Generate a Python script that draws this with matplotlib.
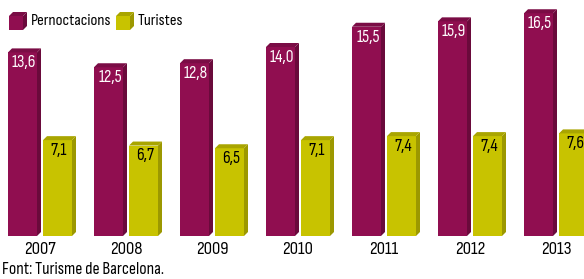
import matplotlib
matplotlib.use("Agg")
import matplotlib.pyplot as plt
from matplotlib.patches import Polygon
import matplotlib.transforms as mtransforms
import numpy as np

years = ["2007", "2008", "2009", "2010", "2011", "2012", "2013"]
pernoctacions = [13.6, 12.5, 12.8, 14.0, 15.5, 15.9, 16.5]
turistes = [7.1, 6.7, 6.5, 7.1, 7.4, 7.4, 7.6]
series_names = ["Pernoctacions", "Turistes"]
source = "Font: Turisme de Barcelona."

FONT = ["Sofia Sans Condensed", "Sofia Sans Semi Condensed", "DejaVu Sans"]
plt.rcParams["font.family"] = FONT

W, H = 584, 279
fig = plt.figure(figsize=(W / 100, H / 100), dpi=100)
ax = fig.add_axes([0, 43 / H, 1, 236 / H])
ax.set_xlim(-40 / 86, -40 / 86 + W / 86)
ax.set_ylim(0, 236 / 13.5)
ax.axis("off")

colors = [
    dict(front="#900E50", side="#6A0A3B", top="#7A0C45", text="white"),
    dict(front="#C8C300", side="#9C9800", top="#A9A500", text="black"),
]
bw = 29 / 86
off = 17.5 / 86
depth = 4  # px
x = np.arange(len(years))

dtrans = mtransforms.ScaledTranslation(depth / 100, depth / 100, fig.dpi_scale_trans)

for k, vals in enumerate([pernoctacions, turistes]):
    c = colors[k]
    xs = x + (-off if k == 0 else off)
    bars = ax.bar(xs, vals, width=bw, color=c["front"], zorder=3)
    for b, v in zip(bars, vals):
        x0, x1 = b.get_x(), b.get_x() + b.get_width()
        disp = ax.transData
        pts_side = [(x1, 0), (x1, v)]
        pts_top = [(x0, v), (x1, v)]
        p0 = disp.transform(pts_side)
        p1 = (disp + dtrans).transform(pts_side)
        side = Polygon([p0[0], p0[1], p1[1], p1[0]], closed=True,
                       transform=None, facecolor=c["side"], edgecolor="none", zorder=2)
        t0 = disp.transform(pts_top)
        t1 = (disp + dtrans).transform(pts_top)
        top = Polygon([t0[0], t0[1], t1[1], t1[0]], closed=True,
                      transform=None, facecolor=c["top"], edgecolor="none", zorder=2)
        fig.patches.append(side)
        fig.patches.append(top)
        ax.annotate(f"{v:.1f}".replace(".", ","), (b.get_x() + b.get_width() / 2, v),
                    xytext=(1, -2), textcoords="offset points", ha="center", va="top",
                    color=c["text"], fontsize=12.5, zorder=5)

for i, y in enumerate(years):
    ax.annotate(y, (i, 0), xytext=(0, -4.5), textcoords="offset points",
                ha="center", va="top", fontsize=13.5, color="black")

fig.text(2 / W, 1 - 270 / H, source, ha="left", va="center", fontsize=12.6, color="black")

def cube(xp, yp, s, c):
    d = 4
    front = Polygon([(xp, yp), (xp + s, yp), (xp + s, yp + s), (xp, yp + s)],
                    transform=None, facecolor=c["front"], edgecolor="none")
    side = Polygon([(xp + s, yp), (xp + s + d, yp + d), (xp + s + d, yp + s + d), (xp + s, yp + s)],
                   transform=None, facecolor=c["side"], edgecolor="none")
    top = Polygon([(xp, yp + s), (xp + s, yp + s), (xp + s + d, yp + s + d), (xp + d, yp + s + d)],
                  transform=None, facecolor=c["top"], edgecolor="none")
    for p in (front, side, top):
        fig.patches.append(p)

cube(9, H - 30, 14, colors[0])
fig.text(31 / W, 1 - 21 / H, series_names[0], ha="left", va="center", fontsize=12)
cube(116, H - 30, 14, colors[1])
fig.text(138 / W, 1 - 21 / H, series_names[1], ha="left", va="center", fontsize=12)

fig.savefig("out.png", dpi=100)
